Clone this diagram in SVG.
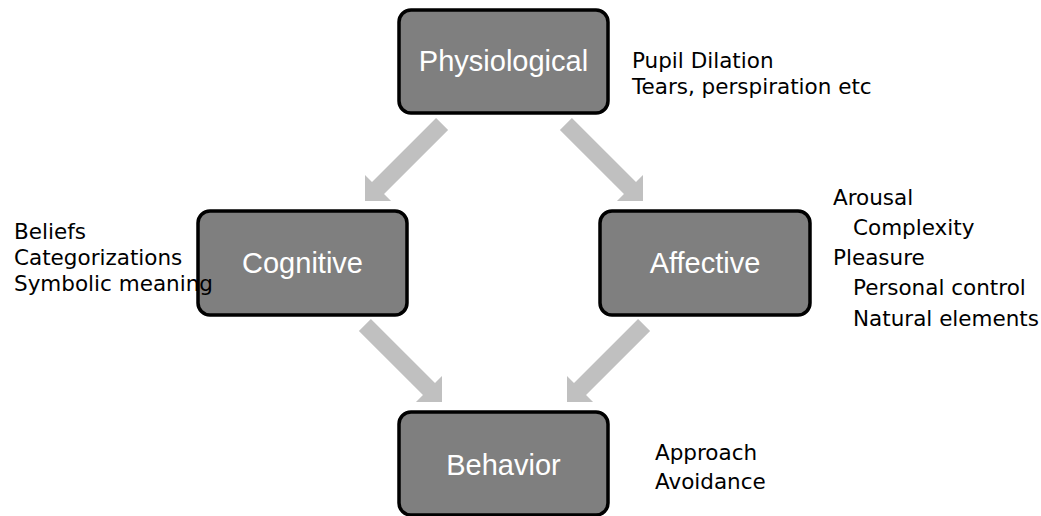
<svg xmlns="http://www.w3.org/2000/svg" xmlns:xlink="http://www.w3.org/1999/xlink" width="1041" height="516" viewBox="0 0 1041 516">
  <style>
    .box { fill: #7f7f7f; stroke: #000000; stroke-width: 3.5; }
    .label { font-family: "Liberation Sans", Arial, sans-serif; font-size: 29px; fill: #ffffff; text-anchor: middle; }
    .note { font-family: "DejaVu Sans", Verdana, sans-serif; font-size: 21.5px; fill: #000000; }
    .arrow { fill: #c0c0c0; }
  </style>
  <defs>
    <!-- block arrow, tip at origin pointing along +y -->
    <path id="blockArrow" class="arrow" d="M0,0 L18.4,-18.4 L8.5,-18.4 L8.5,-109 L-8.5,-109 L-8.5,-18.4 L-18.4,-18.4 Z"/>
  </defs>
  <rect width="1041" height="516" fill="#ffffff"/>

  <g id="connectors">
    <use xlink:href="#blockArrow" href="#blockArrow" transform="translate(365,201) rotate(45)"/>
    <use xlink:href="#blockArrow" href="#blockArrow" transform="translate(643,201) rotate(-45)"/>
    <use xlink:href="#blockArrow" href="#blockArrow" transform="translate(442,402) rotate(-45)"/>
    <use xlink:href="#blockArrow" href="#blockArrow" transform="translate(567,402) rotate(45)"/>
  </g>

  <g id="physiological">
    <rect class="box" x="399" y="10" width="209" height="103" rx="12"/>
    <text class="label" x="503.5" y="71">Physiological</text>
    <text class="note" x="632" y="68">Pupil Dilation</text>
    <text class="note" x="632" y="93.5">Tears, perspiration etc</text>
  </g>

  <g id="cognitive">
    <rect class="box" x="198" y="211" width="209" height="104" rx="12"/>
    <text class="label" x="302.5" y="272.5">Cognitive</text>
    <text class="note" x="14" y="238.5">Beliefs</text>
    <text class="note" x="14" y="264.5">Categorizations</text>
    <text class="note" x="14" y="290.5">Symbolic meaning</text>
  </g>

  <g id="affective">
    <rect class="box" x="600" y="211" width="210" height="104" rx="12"/>
    <text class="label" x="705" y="272.5">Affective</text>
    <text class="note" x="833" y="204.5">Arousal</text>
    <text class="note" x="853" y="234.5">Complexity</text>
    <text class="note" x="833" y="264.5">Pleasure</text>
    <text class="note" x="853" y="295">Personal control</text>
    <text class="note" x="853" y="325.5">Natural elements</text>
  </g>

  <g id="behavior">
    <rect class="box" x="399" y="412" width="209" height="103" rx="12"/>
    <text class="label" x="503.5" y="475">Behavior</text>
    <text class="note" x="655" y="460">Approach</text>
    <text class="note" x="655" y="489">Avoidance</text>
  </g>
</svg>
